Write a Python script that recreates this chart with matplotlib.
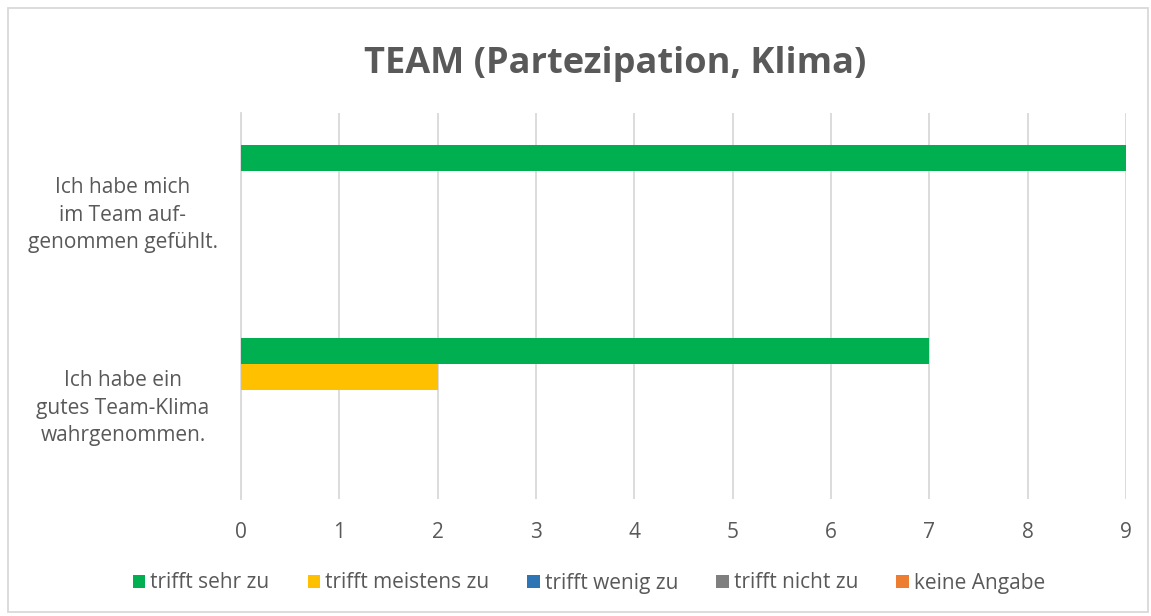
import matplotlib.pyplot as plt
from matplotlib.patches import Patch, Rectangle

categories = [
    "Ich habe mich\nim Team auf-\ngenommen gefühlt.",
    "Ich habe ein\ngutes Team-Klima\nwahrgenommen.",
]
series = ["trifft sehr zu", "trifft meistens zu", "trifft wenig zu", "trifft nicht zu", "keine Angabe"]
values = [
    [9, 7],  # trifft sehr zu
    [0, 2],  # trifft meistens zu
    [0, 0],  # trifft wenig zu
    [0, 0],  # trifft nicht zu
    [0, 0],  # keine Angabe
]
colors = ["#00B050", "#FFC000", "#2E75B6", "#7F7F7F", "#ED7D31"]
xticks = list(range(0, 10))

plt.rcParams["font.family"] = ["Open Sans", "DejaVu Sans"]
text_color = "#595959"
grid_color = "#D9D9D9"

fig = plt.figure(figsize=(11.51, 6.16), dpi=100)
ax = fig.add_axes([241 / 1151, 1 - 499 / 616, (1126 - 241) / 1151, (499 - 113) / 616])

h = 0.1347
for i, (name, vals) in enumerate(zip(series, values)):
    pos = [c + (i - 2) * h for c in range(len(categories))]
    ax.barh(pos, vals, height=h, color=colors[i], label=name, zorder=3)

ax.set_ylim(1.5, -0.5)
ax.set_xlim(0, 9)
ax.set_xticks(xticks)
ax.set_yticks(range(len(categories)))
ax.set_yticklabels(categories, multialignment="center", ha="center", linespacing=1.4)
ax.tick_params(axis="y", length=0, pad=85, labelsize=15, colors=text_color)
ax.tick_params(axis="x", length=0, pad=16.5, labelsize=15, colors=text_color)
ax.xaxis.grid(True, color=grid_color, linewidth=1.3, zorder=0)
for s in ["top", "right", "bottom"]:
    ax.spines[s].set_visible(False)
ax.spines["left"].set_color(grid_color)
ax.spines["left"].set_linewidth(1.3)

fig.text(615 / 1151, 1 - 64 / 616, "TEAM (Partezipation, Klima)", ha="center", va="center",
         fontsize=26, fontweight="bold", color=text_color)

handles = [Patch(facecolor=c, label=n) for c, n in zip(colors, series)]
fig.legend(handles=handles, loc="center", bbox_to_anchor=(589 / 1151, 1 - 583 / 616), ncol=5,
           frameon=False, fontsize=15, labelcolor=text_color, handlelength=0.6,
           handleheight=0.6, handletextpad=0.25, columnspacing=1.82)

fig.patches.append(Rectangle((8 / 1151, 4 / 616), 1140 / 1151, 604 / 616, transform=fig.transFigure,
                             fill=False, edgecolor=grid_color, linewidth=1.3))

fig.savefig("out.png", dpi=100)
